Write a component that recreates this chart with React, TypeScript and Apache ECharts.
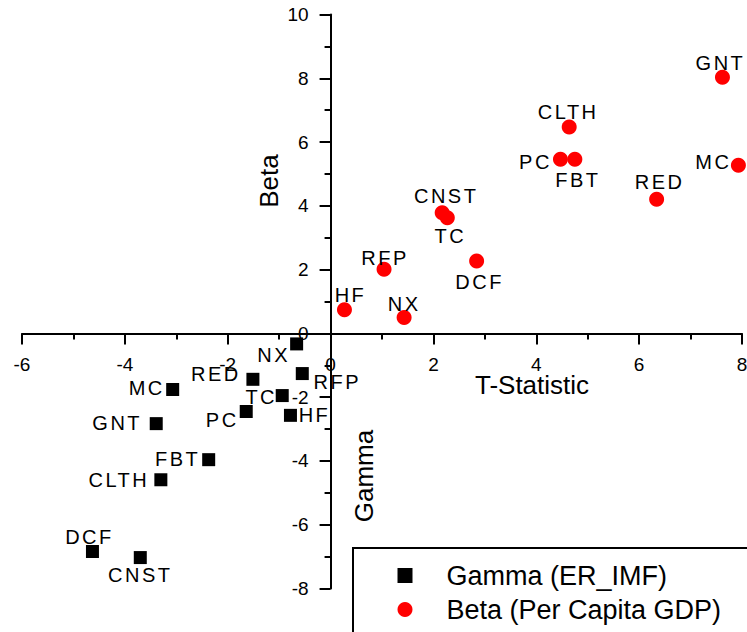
import React, { useEffect, useRef } from "react";
import * as echarts from "echarts";

// Sector names (same order for both series)
const sectors = ["GNT", "MC", "CLTH", "PC", "FBT", "RED", "CNST", "TC", "DCF", "RFP", "HF", "NX"];

// Beta (Per Capita GDP): T-statistic and coefficient
const betaT = [7.62, 7.93, 4.64, 4.47, 4.75, 6.34, 2.17, 2.27, 2.84, 1.04, 0.27, 1.43];
const betaCoef = [8.03, 5.27, 6.47, 5.46, 5.46, 4.21, 3.78, 3.63, 2.27, 2.01, 0.74, 0.5];

// Gamma (ER_IMF): T-statistic and coefficient
const gammaT = [-3.39, -3.07, -3.3, -1.64, -2.37, -1.51, -3.7, -0.94, -4.63, -0.55, -0.78, -0.66];
const gammaCoef = [-2.83, -1.76, -4.59, -2.45, -3.96, -1.44, -7.03, -1.95, -6.84, -1.26, -2.57, -0.33];

// Label placement relative to each marker (pixels)
const betaLabelShift = [[-2, -14], [-25, -3], [-1, -15], [-25, 3], [3, 21], [3, -17], [4, -17], [3, 18], [3, 21], [1, -11], [6, -15], [0, -13]];
const gammaLabelShift = [[-39, -1], [-26, -2], [-42, 0], [-24, 8], [-31, -1], [-37, -5], [0, 17], [-21, 1], [-3, -15], [35, 8], [24, 0], [-23, 11]];

const xTicks = { min: -6, max: 8, interval: 2 };
const yTicks = { min: -8, max: 10, interval: 2 };

const seriesNames = ["Gamma (ER_IMF)", "Beta (Per Capita GDP)"];

const FONT = "'Liberation Sans', Arial, sans-serif";
const LABEL_FONT = "'Liberation Sans', Arimo";

function buildPoints(xs: number[], ys: number[], shifts: number[][], size: number) {
  return sectors.map((name, i) => ({
    name,
    value: [xs[i], ys[i]],
    label: {
      position: [size / 2 + shifts[i][0], size / 2 + shifts[i][1]],
    },
  }));
}

export default function App() {
  const ref = useRef<HTMLDivElement>(null);
  useEffect(() => {
    if (!ref.current) return;
    const chart = echarts.init(ref.current, undefined, { renderer: "svg" });
    const axisCommon = {
      type: "value",
      axisLine: { show: true, onZero: false, lineStyle: { color: "#000", width: 2 } },
      axisTick: { show: true, inside: false, length: 11, lineStyle: { color: "#000", width: 2 } },
      minorTick: { show: true, splitNumber: 2, length: 6, lineStyle: { color: "#000", width: 2 } },
      splitLine: { show: false },
      minorSplitLine: { show: false },
      axisLabel: { color: "#000", fontSize: 19, fontFamily: FONT, margin: 22 },
    };
    const labelCommon = {
      show: true,
      formatter: "{b}",
      align: "center",
      verticalAlign: "middle",
      fontSize: 20,
      fontFamily: LABEL_FONT,
      color: "#000",
    };
    chart.setOption({
      animation: false,
      backgroundColor: "#fff",
      grid: { left: 22, right: 5, top: 14.5, bottom: 43.5, containLabel: false, outerBoundsMode: "none" },
      xAxis: { ...axisCommon, ...xTicks, position: "bottom", offset: 0 },
      yAxis: { ...axisCommon, ...yTicks, position: "left", offset: 0 },
      legend: {
        orient: "vertical",
        left: 397.5,
        top: 562,
        padding: 0,
        itemWidth: 15,
        itemHeight: 15,
        itemGap: 7,
        textStyle: { fontSize: 27, lineHeight: 27, color: "#000", fontFamily: FONT, padding: [0, 0, 0, 29] },
        data: [
          { name: seriesNames[0], icon: "rect" },
          { name: seriesNames[1], icon: "circle" },
        ],
      },
      graphic: [
        {
          type: "rect",
          z: 0,
          shape: { x: 353, y: 548, width: 420, height: 120 },
          style: { fill: "none", stroke: "#000", lineWidth: 2 },
        },
        {
          type: "text",
          x: 532,
          y: 385,
          style: { text: "T-Statistic", fontSize: 26, fontFamily: FONT, fill: "#000", align: "center", verticalAlign: "middle" },
        },
        {
          type: "text",
          x: 269,
          y: 181,
          rotation: Math.PI / 2,
          style: { text: "Beta", fontSize: 26, fontFamily: FONT, fill: "#000", align: "center", verticalAlign: "middle" },
        },
        {
          type: "text",
          x: 364,
          y: 476,
          rotation: Math.PI / 2,
          style: { text: "Gamma", fontSize: 26, fontFamily: FONT, fill: "#000", align: "center", verticalAlign: "middle" },
        },
      ],
      series: [
        {
          name: seriesNames[0],
          type: "scatter",
          symbol: "rect",
          symbolSize: 13,
          itemStyle: { color: "#000", opacity: 1 },
          label: labelCommon,
          data: buildPoints(gammaT, gammaCoef, gammaLabelShift, 13),
        },
        {
          name: seriesNames[1],
          type: "scatter",
          symbol: "circle",
          symbolSize: 15,
          itemStyle: { color: "#ff0000", opacity: 1 },
          label: labelCommon,
          data: buildPoints(betaT, betaCoef, betaLabelShift, 15),
        },
      ],
    });
    // Move both axes (line, ticks and labels) onto the origin of the other axis.
    const origin = chart.convertToPixel({ gridIndex: 0 }, [0, 0]) as number[];
    const corner = chart.convertToPixel({ gridIndex: 0 }, [xTicks.min, yTicks.min]) as number[];
    chart.setOption({
      xAxis: { offset: origin[1] - corner[1] },
      yAxis: { offset: corner[0] - origin[0] },
    });
    return () => chart.dispose();
  }, []);
  return (
    <>
      <style>{`text[style*="Arimo"], text[font-family*="Arimo"] { letter-spacing: 2.5px; }`}</style>
      <div ref={ref} style={{ position: "fixed", left: 0, top: 0, width: 747, height: 632 }} />
    </>
  );
}
